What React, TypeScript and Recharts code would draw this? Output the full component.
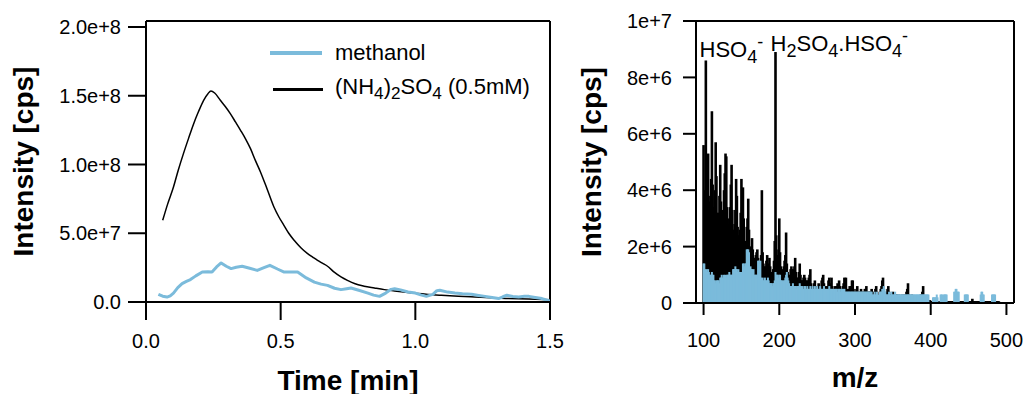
import React from 'react';
import {
  LineChart, Line, BarChart, Bar, XAxis, YAxis, ReferenceLine, ReferenceDot,
} from 'recharts';

const FONT = '"Liberation Sans", Arial, Helvetica, sans-serif';
const BLUE = '#7bbbdb';

// ---- left panel: signal vs time ----
const nh4Time = [
  0.062, 0.08, 0.102, 0.12, 0.139, 0.158, 0.177, 0.195, 0.214, 0.23,
  0.241, 0.255, 0.276, 0.295, 0.313, 0.332, 0.351, 0.37, 0.388, 0.406,
  0.425, 0.45, 0.475, 0.493, 0.512, 0.53, 0.55, 0.575, 0.6, 0.62,
  0.637, 0.655, 0.674, 0.7, 0.724, 0.75, 0.774, 0.81, 0.848, 0.885,
  0.923, 0.965, 1.01, 1.05, 1.097, 1.16, 1.221, 1.28, 1.346, 1.42, 1.5,
];
// 1e6 cps
const nh4Cps = [
  59.4, 71, 83.6, 96, 107.9, 119, 129.7, 138.5, 146.7, 151.5,
  153.5, 152, 146.7, 142, 137, 131, 124.9, 118.5, 111.5, 103,
  94.6, 82, 69.1, 62, 55.8, 50, 44.9, 39.5, 35.2, 32.5,
  30.3, 28.2, 26, 21.5, 18.2, 15.5, 13.4, 11.5, 10.2, 9,
  8, 7, 6.1, 5.5, 4.9, 4.2, 3.6, 3, 2.5, 2.1, 1.7,
];
const meohTime = [
  0.046, 0.062, 0.078, 0.09, 0.102, 0.118, 0.134, 0.15, 0.165, 0.185,
  0.209, 0.23, 0.245, 0.262, 0.279, 0.298, 0.316, 0.335, 0.357, 0.385,
  0.413, 0.438, 0.46, 0.488, 0.513, 0.54, 0.563, 0.595, 0.625, 0.65,
  0.674, 0.7, 0.724, 0.745, 0.761, 0.79, 0.824, 0.845, 0.867, 0.89,
  0.91, 0.923, 0.945, 0.973, 1.0, 1.02, 1.041, 1.065, 1.08, 1.091,
  1.12, 1.147, 1.175, 1.209, 1.235, 1.259, 1.285, 1.309, 1.325, 1.34,
  1.362, 1.384, 1.405, 1.422, 1.445, 1.47, 1.49, 1.5,
];
const meohCps = [
  5.6, 4.2, 3.6, 4.5, 6.5, 10.5, 13.4, 15, 16.3, 19,
  21.8, 22, 21.8, 25.5, 28.4, 26, 24.3, 25.3, 26, 24.5,
  23, 25, 26.7, 24, 21.8, 21.8, 21.8, 17.5, 14.5, 13,
  12.1, 10, 9, 9.7, 10.2, 8.5, 6.5, 5, 4.1, 6.5,
  9.2, 9.7, 8.8, 7.3, 6.5, 5.2, 4.1, 5.5, 8.2, 8.5,
  7.2, 6.5, 6, 5.6, 4.8, 4.1, 3.3, 2.5, 3.8, 4.9,
  4, 3.6, 4.1, 4.1, 3.3, 2.5, 1.3, 0.7,
];
const timeTicks = [0, 0.5, 1.0, 1.5];
const ticTicks = [0, 5e7, 1e8, 1.5e8, 2e8];
const TIC_MAX = 2.0436e8;

// ---- right panel: mass spectrum, one value per m/z from 100 to 490 ----
const MZ_START = 100;
// 1e5 cps
const specNH4 = [
  56, 30, 40, 86, 45, 34, 53, 36, 30, 38,
  44, 68, 42, 32, 34, 40, 57, 45, 32, 28,
  32, 38, 49, 36, 28, 30, 33, 40, 46, 53,
  52, 34, 28, 26, 30, 34, 42, 49, 33, 26,
  24, 28, 33, 44, 38, 27, 24, 22, 26, 32,
  44, 34, 41, 30, 22, 20, 22, 27, 30, 37,
  26, 20, 18, 20, 23, 19, 16, 15, 16, 17,
  18, 19, 16, 14, 13, 14, 17, 40, 18, 14,
  13, 12, 13, 15, 17, 14, 13, 16, 13, 11,
  10, 11, 12, 15, 22, 89, 24, 17, 15, 19,
  30, 18, 13, 11, 10, 12, 13, 15, 17, 25,
  14, 11, 10, 9, 10, 12, 13, 12, 11, 12,
  13, 16, 11, 9, 8, 9, 11, 14, 10, 8,
  8, 8, 9, 10, 9, 8, 7, 8, 8, 9,
  10, 12, 7, 6, 5, 6, 7, 8, 6, 5,
  5, 6, 7, 6, 5, 6, 8, 9, 10, 7,
  5, 5, 6, 5, 6, 8, 9, 6, 7, 9,
  6, 5, 4, 5, 6, 5, 6, 7, 6, 8,
  6, 5, 4, 5, 6, 7, 9, 6, 9, 5,
  4, 4, 5, 6, 5, 6, 8, 8, 5, 4,
  4, 4, 5, 6, 4, 3, 4, 4, 5, 4,
  3, 4, 4, 5, 5, 6, 4, 3, 4, 4,
  4, 4, 5, 4, 3, 3, 4, 5, 6, 4,
  3, 3, 3, 4, 5, 6, 8, 9, 4, 3,
  3, 3, 4, 5, 6, 4, 3, 3, 3, 3,
  4, 3, 2, 2, 3, 3, 2, 2, 3, 2,
  2, 2, 3, 2, 2, 3, 2, 3, 4, 5,
  7, 3, 2, 2, 2, 3, 2, 2, 2, 2,
  2, 2, 2, 2, 2, 2, 2, 3, 3, 4,
  6, 2, 2, 1, 1, 1, 1, 1, 1, 1,
  0.6, 0.6, 0.6, 0.6, 0.6, 0.6, 0.6, 0.6, 0.6, 0.6,
  0.6, 0.6, 0.6, 0.6, 0.6, 0.6, 0.6, 0.6, 0.6, 0.6,
  0.6, 0.6, 0.6, 0.6, 0.6, 0.6, 0.6, 0.6, 0.6, 0.6,
  0.6, 0.6, 0.6, 0.6, 0.6, 0.6, 0.6, 0.6, 0.6, 0.6,
  0.6, 0.6, 0.6, 0.6, 0.6, 0.6, 0.6, 0.6, 0.6, 0.6,
  0.6, 0.6, 0.6, 0.6, 0.6, 1.5, 0.6, 0.6, 0.6, 0.6,
  0.6, 0.6, 0.6, 0.6, 0.6, 0.6, 0.6, 0.6, 0.6, 0.6,
  0.6, 0.6, 0.6, 0.6, 0.6, 0.6, 0.6, 0.6, 0.6, 0.6,
  0.6, 0.6, 0.6, 0.6, 0.6, 0.6, 0.6, 0.6, 0.6, 0.6,
  0.6,
];
const specMeOH = [
  14, 14, 12, 11, 12, 11, 12, 11, 10, 10,
  10, 11, 10, 10, 8, 8, 7, 8, 8, 8,
  8, 7, 9, 9, 10, 9, 9, 10, 9, 10,
  9, 10, 10, 10, 11, 10, 10, 10, 10, 12,
  12, 12, 13, 12, 12, 11, 12, 11, 11, 11,
  11, 11, 14, 14, 13, 14, 14, 19, 19, 19,
  18, 12, 13, 12, 12, 11, 12, 10, 10, 10,
  10, 10, 15, 15, 14, 15, 9, 8, 9, 8,
  8, 9, 8, 8, 8, 9, 8, 7, 7, 7,
  7, 6, 7, 7, 8, 11, 10, 10, 10, 9,
  10, 10, 8, 8, 8, 7, 8, 8, 9, 10,
  11, 9, 8, 7, 6, 6, 6, 6, 7, 6,
  6, 6, 6, 5, 6, 6, 6, 7, 6, 6,
  6, 5, 5, 6, 6, 5, 5, 6, 5, 5,
  5, 6, 5, 5, 6, 5, 5, 6, 5, 5,
  6, 5, 5, 5, 6, 5, 5, 5, 5, 6,
  5, 5, 5, 4, 5, 5, 6, 5, 5, 5,
  5, 5, 4, 5, 5, 5, 5, 4, 5, 5,
  5, 4, 5, 5, 4, 5, 5, 4, 4, 4,
  4, 4, 4, 4, 4, 4, 4, 4, 4, 4,
  4, 4, 4, 4, 4, 4, 4, 4, 4, 4,
  4, 4, 4, 4, 4, 4, 4, 4, 4, 4,
  4, 4, 4, 3, 3, 3, 4, 3, 3, 4,
  3, 3, 3, 4, 4, 4, 5, 5, 6, 5,
  4, 3, 3, 3, 3, 4, 3, 3, 4, 3,
  3, 3, 3, 4, 3, 3, 3, 3, 3, 3,
  3, 3, 3, 3, 3, 3, 3, 3, 3, 3,
  3, 3, 3, 3, 3, 3, 3, 3, 3, 3,
  3, 3, 3, 3, 3, 3, 3, 3, 3, 3,
  3, 3, 3, 3, 3, 3, 3, 3, 0, 0,
  0, 0, 0, 2, 2, 2, 2, 2, 3, 2,
  0, 0, 0, 3, 3, 3, 2, 3, 3, 3,
  3, 3, 0, 0, 0, 0, 0, 0, 0, 0,
  0, 4, 4, 5, 5, 4, 4, 4, 0, 0,
  0, 0, 0, 0, 0, 3, 3, 3, 3, 3,
  0, 0, 0, 0, 0, 0, 0, 0, 0, 0,
  0, 0, 0, 0, 0, 0, 3, 4, 4, 3,
  3, 0, 0, 0, 0, 0, 0, 0, 0, 0,
  0, 3, 3, 3, 3, 3, 0, 0, 0, 0,
  0,
];
const mzTicks = [100, 200, 300, 400, 500];
const specTicks = [0, 2e6, 4e6, 6e6, 8e6, 1e7];
const SPEC_MAX = 1e7;

// peak labels: [text, 0 normal | 1 subscript | -1 superscript]
const peakLabels: { mz: number; cps: number; parts: [string, number][] }[] = [
  { mz: 94.7, cps: 8.71e6, parts: [['HSO', 0], ['4', 1], ['-', -1]] },
  { mz: 188.5, cps: 8.93e6, parts: [['H', 0], ['2', 1], ['SO', 0], ['4', 1], ['.HSO', 0], ['4', 1], ['-', -1]] },
];

const nh4Data = nh4Time.map((t, i) => ({ t, v: nh4Cps[i] * 1e6 }));
const meohData = meohTime.map((t, i) => ({ t, v: meohCps[i] * 1e6 }));
const specData = specNH4.map((v, i) => ({
  mz: MZ_START + i, nh4: v * 1e5, meoh: specMeOH[i] * 1e5,
}));

const axisStroke = { stroke: '#000', strokeWidth: 2 };
const tickFont = { fill: '#000', fontSize: 20, fontFamily: FONT };
const titleProps = { fill: '#000', fontSize: 28, fontWeight: 700, fontFamily: FONT };

// recharts shrinks bars to the (sub-pixel) band, so draw each stick at a fixed width around its centre
const stick = (w: number) => (props: any) => {
  const { x, y, width, height, fill } = props;
  if (!height || height <= 0) return <g />;
  return <rect x={x + width / 2 - w / 2} y={y} width={w} height={height} fill={fill} />;
};

function Formula({ viewBox, parts }: any) {
  let prev = 0;
  return (
    <text x={viewBox.x} y={viewBox.y} fontSize={22} fontFamily={FONT} fill="#000">
      {parts.map(([s, k]: [string, number], i: number) => {
        const off = k === 1 ? 6 : k === -1 ? -9 : 0;
        const dy = off - prev;
        prev = off;
        return <tspan key={i} dy={dy} fontSize={k === 0 ? 22 : 18}>{s}</tspan>;
      })}
    </text>
  );
}

const subStyle: React.CSSProperties = { fontSize: '0.78em', verticalAlign: '-0.3em' };

function LegendBox() {
  const row: React.CSSProperties = { display: 'flex', alignItems: 'center', height: 36 };
  return (
    <div style={{ position: 'absolute', left: 270, top: 35, fontFamily: FONT, fontSize: 22, color: '#000', lineHeight: 1 }}>
      <div style={row}>
        <div style={{ width: 52, height: 4, background: BLUE, marginRight: 13 }} />
        <span>methanol</span>
      </div>
      <div style={row}>
        <div style={{ width: 50, height: 3, background: '#000', marginLeft: 3, marginRight: 12 }} />
        <span>(NH<sub style={subStyle}>4</sub>)<sub style={subStyle}>2</sub>SO<sub style={subStyle}>4</sub> (0.5mM)</span>
      </div>
    </div>
  );
}

export default function App() {
  return (
    <div style={{ position: 'absolute', left: 0, top: 0, width: 1026, height: 394, background: '#fff', overflow: 'hidden' }}>
      <div style={{ position: 'absolute', left: 0, top: 0 }}>
        <LineChart width={580} height={394} margin={{ top: 21, right: 30, bottom: 0, left: 0 }}>
          <XAxis type="number" dataKey="t" domain={[0, 1.5]} ticks={timeTicks} interval={0} allowDataOverflow
            tickFormatter={(v) => Number(v).toFixed(1)} height={92} tickSize={18} tickMargin={14}
            axisLine={axisStroke} tickLine={axisStroke} tick={tickFont}
            label={{ value: 'Time [min]', position: 'insideBottom', offset: 4, ...titleProps }} />
          <YAxis type="number" domain={[0, TIC_MAX]} ticks={ticTicks} interval={0} allowDataOverflow
            tickFormatter={(v) => (v === 0 ? '0.0' : Number(v).toExponential(1))} width={146} tickSize={18} tickMargin={7}
            axisLine={axisStroke} tickLine={axisStroke} tick={tickFont}
            label={{ value: 'Intensity [cps]', angle: -90, position: 'insideLeft', offset: 23, style: { textAnchor: 'middle' }, ...titleProps }} />
          <ReferenceLine y={TIC_MAX} stroke="#000" strokeWidth={2} />
          <ReferenceLine x={1.5} stroke="#000" strokeWidth={2} />
          <Line data={nh4Data} dataKey="v" type="monotone" stroke="#000" strokeWidth={1.5} dot={false} isAnimationActive={false} />
          <Line data={meohData} dataKey="v" type="linear" stroke={BLUE} strokeWidth={3} dot={false} strokeLinejoin="round" isAnimationActive={false} />
        </LineChart>
      </div>
      <div style={{ position: 'absolute', left: 560, top: 0 }}>
        <BarChart width={466} height={394} data={specData} margin={{ top: 21, right: 12, bottom: 0, left: 0 }}>
          <XAxis xAxisId="k" type="number" dataKey="mz" domain={[90, 510]} ticks={mzTicks} interval={0} allowDataOverflow
            height={91} tickSize={12} tickMargin={18} axisLine={axisStroke} tickLine={axisStroke} tick={tickFont}
            label={{ value: 'm/z', position: 'insideBottom', offset: 7, ...titleProps }} />
          <XAxis xAxisId="b" type="number" dataKey="mz" domain={[90, 510]} allowDataOverflow hide orientation="top" height={0} />
          <YAxis type="number" domain={[0, SPEC_MAX]} ticks={specTicks} interval={0} allowDataOverflow
            tickFormatter={(v) => (v === 0 ? '0' : Number(v).toExponential())} width={136} tickSize={13} tickMargin={11}
            axisLine={axisStroke} tickLine={axisStroke} tick={tickFont}
            label={{ value: 'Intensity [cps]', angle: -90, position: 'insideLeft', offset: 31, style: { textAnchor: 'middle' }, ...titleProps }} />
          <Bar xAxisId="k" dataKey="nh4" fill="#000" shape={stick(2.6)} isAnimationActive={false} />
          <Bar xAxisId="b" dataKey="meoh" fill={BLUE} shape={stick(2)} isAnimationActive={false} />
          <ReferenceLine xAxisId="k" y={SPEC_MAX} stroke="#000" strokeWidth={2} />
          <ReferenceLine xAxisId="k" x={510} stroke="#000" strokeWidth={2} />
          {peakLabels.map((p, i) => (
            <ReferenceDot key={i} xAxisId="k" x={p.mz} y={p.cps} r={0} stroke="none"
              label={<Formula parts={p.parts} />} />
          ))}
        </BarChart>
      </div>
      <LegendBox />
    </div>
  );
}
